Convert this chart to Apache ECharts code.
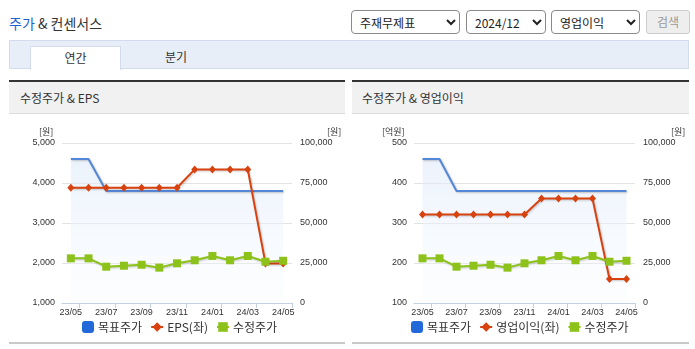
<!DOCTYPE html>
<html><head><meta charset="utf-8">
<script src="https://cdn.jsdelivr.net/npm/echarts@6/dist/echarts.min.js"></script>
<style>
body{margin:0;width:695px;height:349px;overflow:hidden;background:#fff;font-family:"Noto Sans CJK KR",sans-serif;position:relative;color:#333;}
.abs{position:absolute;}
#title{left:9px;top:13px;font-size:14px;line-height:20px;color:#333;white-space:nowrap;}
#title b{font-weight:normal;color:#1e63cf;}
select{position:absolute;top:10px;height:24px;font-size:12px;font-family:"Noto Sans CJK KR",sans-serif;color:#222;background:#fff;border:1px solid #8a8a8a;border-radius:4px;padding:0 4px;}
#btn{position:absolute;left:646px;top:10px;width:44px;height:24px;box-sizing:border-box;border:1px solid #ccc;border-radius:3px;background:#eee;color:#9a9a9a;font-size:12px;line-height:22px;text-align:center;}
#tabbar{left:9px;top:40px;width:680px;height:29px;box-sizing:border-box;background:#e8eef8;border:1px solid #d3dced;}
#tab1{left:30px;top:46px;width:91px;height:24px;box-sizing:border-box;background:#fff;border:1px solid #d3dced;border-bottom:none;font-size:12px;line-height:22px;text-align:center;}
#tab2{left:152px;top:46px;width:48px;height:24px;font-size:12px;line-height:22px;text-align:center;}
.panel{top:80px;height:264px;box-sizing:border-box;border-top:2px solid #333;border-bottom:2px solid #c8c8c8;}
.phead{height:31px;background:#f1f1f1;border-bottom:1px solid #dcdcdc;font-size:12px;line-height:31px;padding-left:11px;color:#333;}
#chart{left:0;top:0;width:695px;height:349px;}
</style></head><body>
<div id="title" class="abs"><b>주가</b> &amp; 컨센서스</div>
<select style="left:351px;width:109px;"><option>주재무제표</option></select>
<select style="left:466px;width:80px;"><option>2024/12</option></select>
<select style="left:551px;width:89px;"><option>영업이익</option></select>
<div id="btn">검색</div>
<div id="tabbar" class="abs"></div>
<div id="tab1" class="abs">연간</div>
<div id="tab2" class="abs">분기</div>
<div class="abs panel" style="left:9px;width:336px;"><div class="phead">수정주가 &amp; EPS</div></div>
<div class="abs panel" style="left:352px;width:337px;"><div class="phead" style="padding-left:10px;">수정주가 &amp; 영업이익</div></div>
<div id="chart" class="abs"></div>
<script>
const categories = ['23/05','23/06','23/07','23/08','23/09','23/10','23/11','23/12','24/01','24/02','24/03','24/04','24/05'];
const targetPrice = [90000,90000,70000,70000,70000,70000,70000,70000,70000,70000,70000,70000,70000];
const adjPrice = [27900,27900,22700,23300,23900,22100,24800,26700,29400,26700,29400,25800,26400];
const eps = [3880,3880,3880,3880,3880,3880,3880,4340,4340,4340,4340,1990,1990];
const opIncome = [321,321,321,321,321,321,321,361,361,361,361,160,160];
const leftTicks1 = {min:1000, max:5000, interval:1000};
const leftTicks2 = {min:100, max:500, interval:100};
const rightTicks = {min:0, max:100000, interval:25000};

const chart = echarts.init(document.getElementById('chart'), null, {renderer:'canvas'});
const fmt = v => Number(v).toLocaleString('en-US');
const labelFont = {fontSize:9, fontFamily:'Liberation Sans, Arial, sans-serif', color:'#333'};
const shadow = {shadowColor:'rgba(0,0,0,0.22)', shadowBlur:2, shadowOffsetX:1, shadowOffsetY:1};
const BLUE = '#5587d8', RED = '#d8420f', GREEN = '#8cc21a';

function xAxis(gi){
  return {type:'category', gridIndex:gi, data:categories, boundaryGap:true,
    axisLine:{lineStyle:{color:'#c3d0e0'}},
    axisTick:{show:true, length:5, interval:(i)=> i%2===1, lineStyle:{color:'#c3d0e0'}},
    axisLabel:Object.assign({interval:1, margin:5}, labelFont),
    splitLine:{show:false}};
}
function yLeft(gi, t){
  return {type:'value', gridIndex:gi, position:'left', min:t.min, max:t.max, interval:t.interval,
    axisLine:{show:false}, axisTick:{show:false},
    axisLabel:Object.assign({margin:7, formatter:fmt}, labelFont),
    splitLine:{lineStyle:{color:'#e3e3e3'}}};
}
function yRight(gi){
  return {type:'value', gridIndex:gi, position:'right', min:rightTicks.min, max:rightTicks.max, interval:rightTicks.interval,
    axisLine:{show:false}, axisTick:{show:false},
    axisLabel:Object.assign({margin:8, formatter:fmt}, labelFont),
    splitLine:{show:false}};
}
function targetSeries(xi, yi){
  return {name:'목표주가', type:'line', xAxisIndex:xi, yAxisIndex:yi, data:targetPrice,
    showSymbol:false, symbol:'none', color:BLUE, z:1,
    lineStyle:Object.assign({width:2, color:BLUE}, shadow),
    areaStyle:{color:new echarts.graphic.LinearGradient(0,0,0,1,[
      {offset:0,color:'rgba(222,234,250,0.85)'},{offset:1,color:'rgba(246,249,254,0.4)'}]), origin:'start'}};
}
function redSeries(name, data, xi, yi){
  return {name, type:'line', xAxisIndex:xi, yAxisIndex:yi, data, color:RED, z:2,
    symbol:'diamond', symbolSize:[7,8], itemStyle:{color:RED},
    lineStyle:Object.assign({width:2, color:RED}, shadow)};
}
function greenSeries(xi, yi){
  return {name:'수정주가', type:'line', xAxisIndex:xi, yAxisIndex:yi, data:adjPrice, color:GREEN, z:3,
    symbol:'rect', symbolSize:8, itemStyle:{color:GREEN},
    lineStyle:Object.assign({width:2, color:GREEN}, shadow)};
}
const unitStyle = {fontSize:9, fontFamily:'Noto Sans CJK KR', fill:'#333', align:'center', verticalAlign:'middle'};
const legendBase = {top:321, itemWidth:12, itemHeight:12, itemGap:8, padding:0,
  textStyle:{fontSize:12, fontFamily:'Noto Sans CJK KR', color:'#333', padding:[0,0,0,-1]}};

chart.setOption({
  animation:false,
  grid:[{left:62, top:143, width:230, height:160},{left:414, top:143, width:221, height:160}],
  xAxis:[xAxis(0), xAxis(1)],
  yAxis:[yLeft(0,leftTicks1), yRight(0), yLeft(1,leftTicks2), yRight(1)],
  legend:[
    Object.assign({left:82, data:[{name:'목표주가', icon:'roundRect', itemStyle:{color:'#2368d8'}}, 'EPS(좌)', '수정주가']}, legendBase),
    Object.assign({left:411, data:[{name:'목표주가', icon:'roundRect', itemStyle:{color:'#2368d8'}}, '영업이익(좌)', '수정주가']}, legendBase)
  ],
  graphic:[
    {type:'text', left:39, top:127, style:Object.assign({text:'[원]'}, unitStyle)},
    {type:'text', left:327, top:127, style:Object.assign({text:'[원]'}, unitStyle)},
    {type:'text', left:382, top:127, style:Object.assign({text:'[억원]'}, unitStyle)},
    {type:'text', left:671, top:127, style:Object.assign({text:'[원]'}, unitStyle)}
  ],
  series:[
    targetSeries(0,1), redSeries('EPS(좌)', eps, 0, 0), greenSeries(0,1),
    targetSeries(1,3), redSeries('영업이익(좌)', opIncome, 1, 2), greenSeries(1,3)
  ]
});
</script>
</body></html>
